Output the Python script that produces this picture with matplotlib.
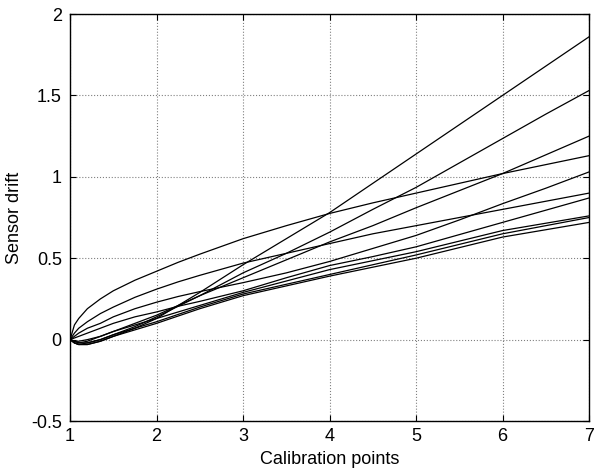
import numpy as np
import matplotlib
matplotlib.use("Agg")
import matplotlib.pyplot as plt

plt.rcParams['font.family'] = ['Liberation Sans', 'DejaVu Sans']

x = [1, 1.05, 1.1, 1.2, 1.35, 1.5, 1.75, 2, 2.25, 2.5, 3, 3.5, 4, 4.5, 5, 5.5, 6, 6.5, 7]

drift_a = [0.00, -0.02, -0.03, -0.03, -0.01, 0.02, 0.07, 0.13, 0.21, 0.29, 0.46, 0.62, 0.78, 0.96, 1.14, 1.32, 1.50, 1.68, 1.86]
drift_b = [0.00, -0.02, -0.03, -0.02, 0.00, 0.03, 0.08, 0.14, 0.205, 0.27, 0.41, 0.53, 0.66, 0.80, 0.935, 1.085, 1.235, 1.385, 1.53]
drift_c = [0.00, 0.09, 0.13, 0.19, 0.25, 0.30, 0.365, 0.42, 0.475, 0.525, 0.62, 0.70, 0.775, 0.84, 0.90, 0.96, 1.02, 1.075, 1.13]
drift_d = [0.00, 0.04, 0.07, 0.11, 0.16, 0.20, 0.26, 0.31, 0.355, 0.395, 0.47, 0.53, 0.59, 0.65, 0.70, 0.75, 0.80, 0.85, 0.90]
drift_e = [0.00, -0.01, -0.02, -0.01, 0.02, 0.05, 0.10, 0.15, 0.21, 0.27, 0.38, 0.49, 0.60, 0.70, 0.81, 0.915, 1.02, 1.135, 1.25]
drift_f = [0.00, 0.02, 0.04, 0.07, 0.10, 0.14, 0.19, 0.23, 0.265, 0.295, 0.35, 0.41, 0.48, 0.56, 0.64, 0.735, 0.835, 0.93, 1.03]
drift_g = [0.00, 0.01, 0.02, 0.04, 0.07, 0.10, 0.14, 0.17, 0.205, 0.235, 0.30, 0.38, 0.455, 0.51, 0.57, 0.645, 0.72, 0.795, 0.87]
drift_h = [0.00, -0.01, -0.01, 0.00, 0.02, 0.05, 0.09, 0.13, 0.17, 0.21, 0.29, 0.36, 0.43, 0.485, 0.54, 0.605, 0.67, 0.715, 0.76]
drift_i = [0.00, -0.01, -0.02, -0.02, 0.00, 0.03, 0.07, 0.11, 0.155, 0.20, 0.28, 0.34, 0.40, 0.46, 0.52, 0.585, 0.65, 0.70, 0.75]
drift_j = [0.00, -0.02, -0.03, -0.03, -0.01, 0.02, 0.06, 0.10, 0.145, 0.19, 0.27, 0.33, 0.39, 0.445, 0.50, 0.565, 0.63, 0.675, 0.72]

curves = [drift_a, drift_b, drift_c, drift_d, drift_e,
          drift_f, drift_g, drift_h, drift_i, drift_j]

fig = plt.figure(figsize=(5.94, 4.76), dpi=100)
ax = fig.add_axes([0.118, 0.1155, 0.8736, 0.855])

for y in curves:
    ax.plot(x, y, color='black', linewidth=0.9)

ax.set_xlim(1, 7)
ax.set_ylim(-0.5, 2)
ax.set_xticks([1, 2, 3, 4, 5, 6, 7])
ax.set_yticks([-0.5, 0, 0.5, 1, 1.5, 2])
ax.set_yticklabels(['-0.5', '0', '0.5', '1', '1.5', '2'])
ax.grid(True, linestyle=':', color='#808080', linewidth=0.8)
ax.tick_params(direction='in', top=True, right=True, length=4, labelsize=13, colors='black')
ax.tick_params(axis='x', pad=5)
ax.tick_params(axis='y', pad=6)
for s in ax.spines.values():
    s.set_linewidth(1.0)
    s.set_color('black')

ax.set_xlabel('Calibration points', fontsize=13, labelpad=4)
ax.set_ylabel('Sensor drift', fontsize=13, labelpad=6)

fig.savefig('out.png', dpi=100)
